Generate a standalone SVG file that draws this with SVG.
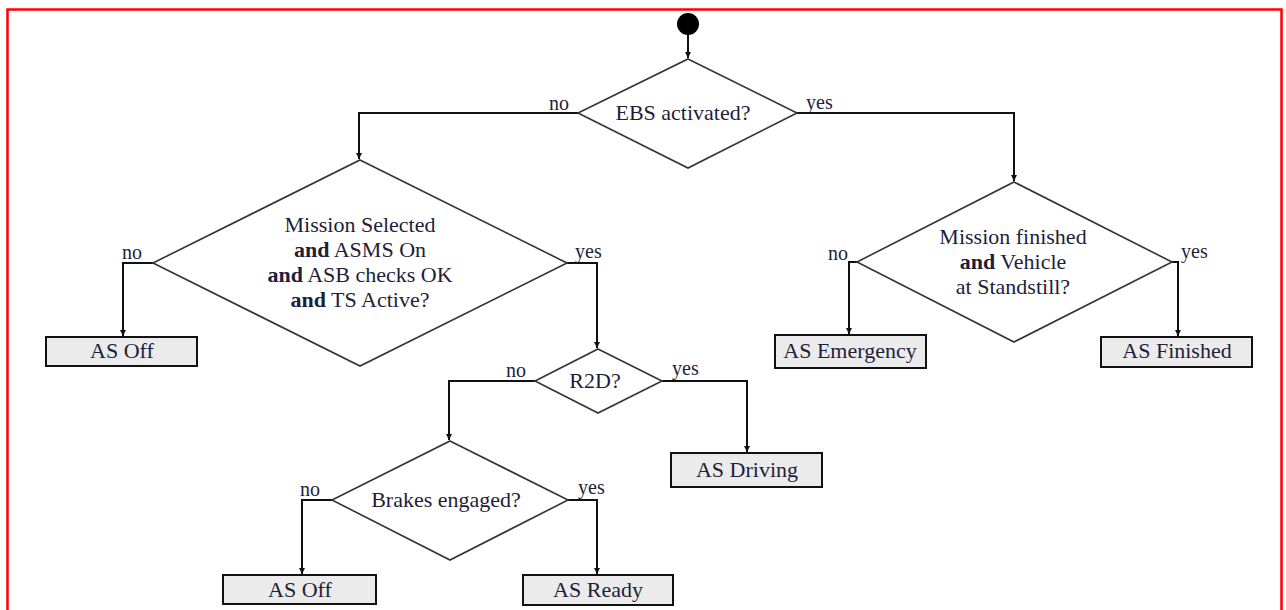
<svg xmlns="http://www.w3.org/2000/svg" width="1286" height="610" viewBox="0 0 1286 610">
<style>
.dia{fill:#fff;stroke:#333;stroke-width:1.6}
.box{fill:#ebebeb;stroke:#111;stroke-width:2}
.t{font-size:22px;fill:#1e1e3a;text-anchor:middle}
.b{font-weight:bold}
.lab{font-size:20px;fill:#1e1e3a}
.c{fill:none;stroke:#111;stroke-width:2;marker-end:url(#arr)}
</style>
<defs>
<marker id="arr" markerWidth="8" markerHeight="8" refX="6" refY="3" orient="auto" markerUnits="userSpaceOnUse">
<path d="M0,0 L6,3 L0,6 Z" fill="#111"/>
</marker>
</defs>
<rect x="0" y="0" width="1286" height="610" fill="#fff"/>
<rect x="7.5" y="9.5" width="1274" height="640" fill="none" stroke="#f00" stroke-width="2.5"/>

<g id="start"><circle cx="688" cy="24" r="11" fill="#000"/></g>

<g id="connectors">
<path class="c" d="M688,35 V58"/>
<path class="c" d="M578,113 H359 V159"/>
<path class="c" d="M797,113 H1014 V181"/>
<path class="c" d="M153,263 H123 V336"/>
<path class="c" d="M567,263 H597 V348"/>
<path class="c" d="M857,262 H849 V334"/>
<path class="c" d="M1172,262 H1178 V336"/>
<path class="c" d="M535,381 H449 V440"/>
<path class="c" d="M662,381 H747 V452"/>
<path class="c" d="M332,500 H302 V574"/>
<path class="c" d="M568,500 H597 V574"/>
</g>

<g font-family="Liberation Serif, Times New Roman, DejaVu Serif, serif">
<g id="labels">
<text class="lab" x="569" y="110" text-anchor="end">no</text>
<text class="lab" x="806" y="109">yes</text>
<text class="lab" x="122" y="259">no</text>
<text class="lab" x="575" y="258">yes</text>
<text class="lab" x="848" y="260" text-anchor="end">no</text>
<text class="lab" x="1181" y="258">yes</text>
<text class="lab" x="526" y="377" text-anchor="end">no</text>
<text class="lab" x="672" y="375">yes</text>
<text class="lab" x="300" y="496">no</text>
<text class="lab" x="578" y="494">yes</text>
</g>

<g id="ebs">
<polygon class="dia" points="688,59 797,113 688,168 578,113"/>
<text class="t" x="683" y="120">EBS activated?</text>
</g>

<g id="mission">
<polygon class="dia" points="360,160 567,263 360,366 153,263"/>
<text class="t" x="360" y="232">Mission Selected</text>
<text class="t" x="360" y="257"><tspan class="b">and</tspan> ASMS On</text>
<text class="t" x="360" y="282"><tspan class="b">and</tspan> ASB checks OK</text>
<text class="t" x="360" y="307"><tspan class="b">and</tspan> TS Active?</text>
</g>

<g id="finished">
<polygon class="dia" points="1014,182 1172,262 1014,342 857,262"/>
<text class="t" x="1013" y="244">Mission finished</text>
<text class="t" x="1013" y="269"><tspan class="b">and</tspan> Vehicle</text>
<text class="t" x="1013" y="294">at Standstill?</text>
</g>

<g id="r2d">
<polygon class="dia" points="598,349 662,381 598,413 535,381"/>
<text class="t" x="595" y="388">R2D?</text>
</g>

<g id="brakes">
<polygon class="dia" points="450,441 568,500 450,560 332,500"/>
<text class="t" x="446" y="507">Brakes engaged?</text>
</g>

<g id="asoff1">
<rect class="box" x="46" y="337" width="151" height="29"/>
<text class="t" x="122" y="358">AS Off</text>
</g>

<g id="asemergency">
<rect class="box" x="775" y="335" width="151" height="33"/>
<text class="t" x="850" y="358">AS Emergency</text>
</g>

<g id="asfinished">
<rect class="box" x="1101" y="337" width="151" height="30"/>
<text class="t" x="1177" y="358">AS Finished</text>
</g>

<g id="asdriving">
<rect class="box" x="671" y="453" width="151" height="34"/>
<text class="t" x="747" y="477">AS Driving</text>
</g>

<g id="asoff2">
<rect class="box" x="223" y="575" width="153" height="29"/>
<text class="t" x="300" y="597">AS Off</text>
</g>

<g id="asready">
<rect class="box" x="523" y="575" width="150" height="30"/>
<text class="t" x="598" y="597">AS Ready</text>
</g>
</g>
</svg>
